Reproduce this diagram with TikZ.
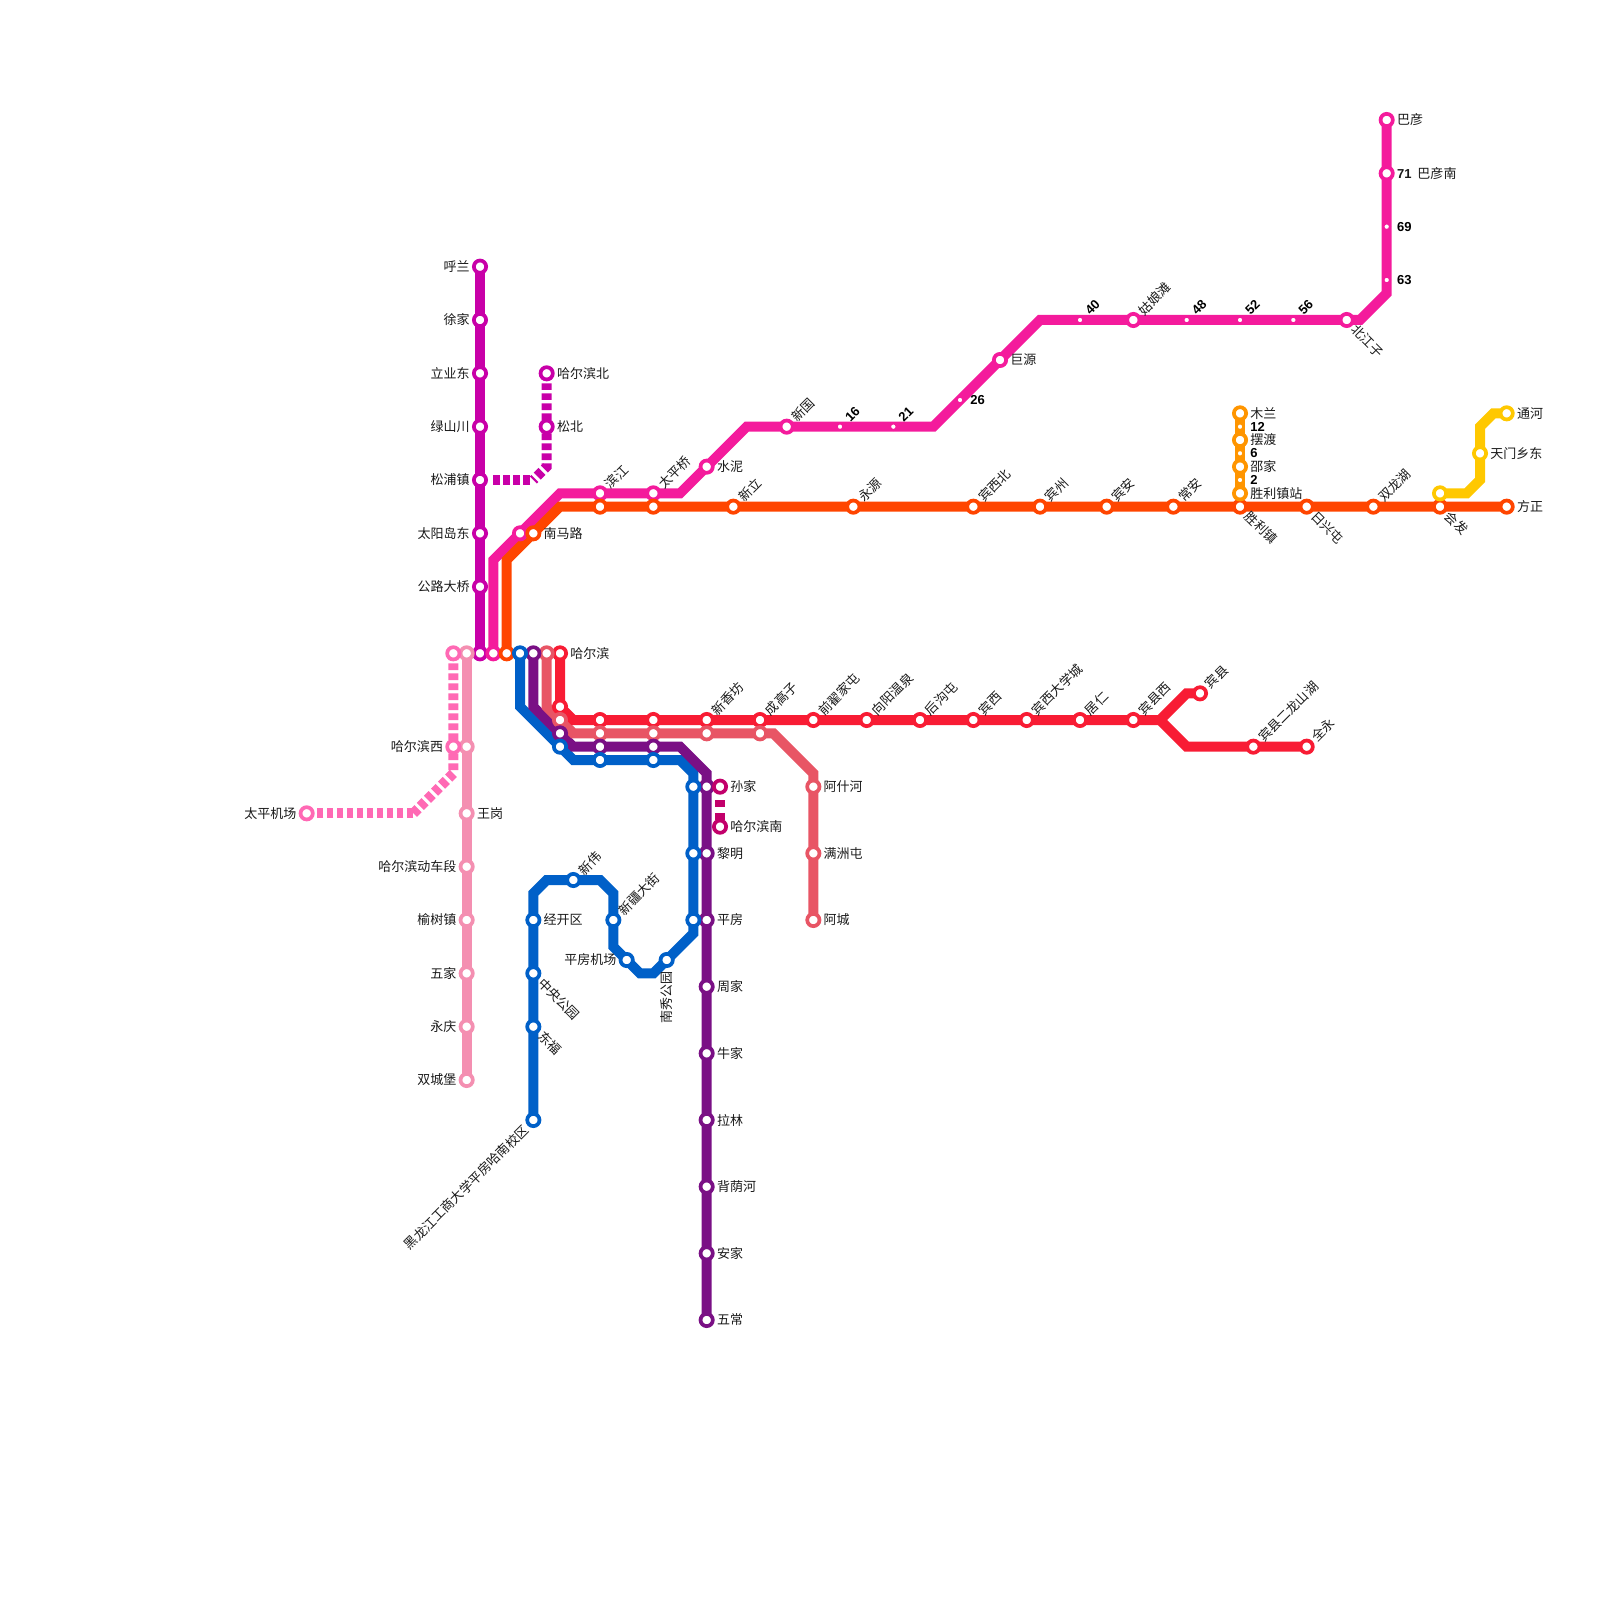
\documentclass[tikz,border=0pt]{standalone}
\usepackage{fontspec}
\usepackage{xcolor}
\setmainfont{Noto Sans CJK SC}
\newfontfamily\numfont{Liberation Sans}
\definecolor{hulan}{RGB}{200,0,168}
\definecolor{bayan}{RGB}{244,27,156}
\definecolor{fangzheng}{RGB}{255,69,0}
\definecolor{mulan}{RGB}{255,149,0}
\definecolor{tonghe}{RGB}{255,200,0}
\definecolor{binxian}{RGB}{248,28,52}
\definecolor{acheng}{RGB}{232,85,101}
\definecolor{wuchang}{RGB}{122,16,133}
\definecolor{pingfang}{RGB}{0,96,200}
\definecolor{shuangcheng}{RGB}{244,143,177}
\definecolor{jichang}{RGB}{255,105,180}
\definecolor{sunjia}{RGB}{194,0,107}
\pgfdeclarelayer{lines}
\pgfsetlayers{lines,main}
% stop: name, place, colour, label style, label
\newcommand{\stn}[5]{\node[stop,draw=#3] (#1) at (#2) {}; \node[#4] (#1-t) at (#1.center) {#5};}
\newcommand{\minor}[5]{\node[minorstop,draw=#3] (#1) at (#2) {}; \node[#4,numtext] (#1-t) at (#1.center) {#5};}
\begin{document}
\begin{tikzpicture}[x=0.2cm,y=-0.2cm,
  stop/.style={circle,fill=white,line width=.056cm,minimum size=.184cm,inner sep=0pt},
  minorstop/.style={circle,fill=white,line width=.03cm,minimum size=.1cm,inner sep=0pt},
  rail/.style={line width=.15cm},
  dashrail/.style={line width=.15cm,dash pattern=on .1cm off .05cm},
  txt/.style={inner sep=0pt,font=\fontsize{5.55pt}{6pt}\selectfont,text=black!90},
  numtext/.style={font=\fontsize{5.55pt}{6pt}\selectfont\numfont\bfseries,text=black},
  toright/.style={txt,anchor=west,xshift=.148cm},
  toleft/.style={txt,anchor=east,xshift=-.148cm},
  toup/.style={txt,anchor=west,xshift=.105cm,yshift=.105cm,rotate=45},
  todown/.style={txt,anchor=west,xshift=.105cm,yshift=-.105cm,rotate=-45},
  toback/.style={txt,anchor=east,xshift=-.105cm,yshift=-.105cm,rotate=45},
  tounder/.style={txt,anchor=east,yshift=-.16cm,rotate=90}]
  \useasboundingbox (0,0) rectangle (120,120);

  % hulan line
  \stn{hulan}{36,20}{hulan}{toleft}{呼兰}
  \stn{xujia}{36,24}{hulan}{toleft}{徐家}
  \stn{liye}{36,28}{hulan}{toleft}{立业东}
  \stn{lvshan}{36,32}{hulan}{toleft}{绿山川}
  \stn{songpu}{36,36}{hulan}{toleft}{松浦镇}
  \stn{taiyang}{36,40}{hulan}{toleft}{太阳岛东}
  \stn{gonglu}{36,44}{hulan}{toleft}{公路大桥}
  \stn{hrbA}{36,49}{hulan}{toleft}{}
  \stn{hrbbei}{41,28}{hulan}{toright}{哈尔滨北}
  \stn{songbei}{41,32}{hulan}{toright}{松北}

  % bayan line
  \stn{hrbB}{37,49}{bayan}{toright}{}
  \stn{bmaA}{39,40}{bayan}{toright}{}
  \stn{binjiang}{45,37}{bayan}{toup}{滨江}
  \stn{taiping}{49,37}{bayan}{toup}{太平桥}
  \stn{shuini}{53,35}{bayan}{toright}{水泥}
  \stn{xinguo}{59,32}{bayan}{toup}{新国}
  \minor{km16}{63,32}{bayan}{toup}{16}
  \minor{km21}{67,32}{bayan}{toup}{21}
  \minor{km26}{72,30}{bayan}{toright}{26}
  \stn{juyuan}{75,27}{bayan}{toright}{巨源}
  \minor{km40}{81,24}{bayan}{toup}{40}
  \stn{guniang}{85,24}{bayan}{toup}{姑娘滩}
  \minor{km48}{89,24}{bayan}{toup}{48}
  \minor{km52}{93,24}{bayan}{toup}{52}
  \minor{km56}{97,24}{bayan}{toup}{56}
  \stn{beijiang}{101,24}{bayan}{todown}{北江子}
  \minor{km63}{104,21}{bayan}{toright}{63}
  \minor{km69}{104,17}{bayan}{toright}{69}
  \stn{bayannan}{104,13}{bayan}{toright}{{\numfont\bfseries 71}\hspace{.09cm}巴彦南}
  \stn{bayan}{104,9}{bayan}{toright}{巴彦}

  % fangzheng line
  \stn{hrbC}{38,49}{fangzheng}{toright}{}
  \stn{nanma}{40,40}{fangzheng}{toright}{南马路}
  \stn{binjiangB}{45,38}{fangzheng}{toright}{}
  \stn{taipingB}{49,38}{fangzheng}{toright}{}
  \stn{xinli}{55,38}{fangzheng}{toup}{新立}
  \stn{yongyuan}{64,38}{fangzheng}{toup}{永源}
  \stn{binxibei}{73,38}{fangzheng}{toup}{宾西北}
  \stn{binzhou}{78,38}{fangzheng}{toup}{宾州}
  \stn{binan}{83,38}{fangzheng}{toup}{宾安}
  \stn{changan}{88,38}{fangzheng}{toup}{常安}
  \stn{shengli}{93,38}{fangzheng}{todown}{胜利镇}
  \stn{rixing}{98,38}{fangzheng}{todown}{日兴屯}
  \stn{shuanglong}{103,38}{fangzheng}{toup}{双龙湖}
  \stn{huifa}{108,38}{fangzheng}{todown}{会发}
  \stn{fangzheng}{113,38}{fangzheng}{toright}{方正}

  % mulan line
  \stn{mulan}{93,31}{mulan}{toright}{木兰}
  \minor{km12}{93,32}{mulan}{toright}{12}
  \stn{baidu}{93,33}{mulan}{toright}{摆渡}
  \minor{km6}{93,34}{mulan}{toright}{6}
  \stn{shaojia}{93,35}{mulan}{toright}{邵家}
  \minor{km2}{93,36}{mulan}{toright}{2}
  \stn{shenglizhan}{93,37}{mulan}{toright}{胜利镇站}

  % tonghe line
  \stn{huifaB}{108,37}{tonghe}{toright}{}
  \stn{tianmen}{111,34}{tonghe}{toright}{天门乡东}
  \stn{tonghe}{113,31}{tonghe}{toright}{通河}

  % binxian line
  \stn{hrbD}{42,49}{binxian}{toright}{哈尔滨}
  \stn{xiA}{42,53}{binxian}{toright}{}
  \stn{xiB}{45,54}{binxian}{toright}{}
  \stn{xiC}{49,54}{binxian}{toright}{}
  \stn{xinxiang}{53,54}{binxian}{toup}{新香坊}
  \stn{chenggao}{57,54}{binxian}{toup}{成高子}
  \stn{qianzhai}{61,54}{binxian}{toup}{前翟家屯}
  \stn{xiangyang}{65,54}{binxian}{toup}{向阳温泉}
  \stn{hougou}{69,54}{binxian}{toup}{后沟屯}
  \stn{binxi}{73,54}{binxian}{toup}{宾西}
  \stn{binxida}{77,54}{binxian}{toup}{宾西大学城}
  \stn{juren}{81,54}{binxian}{toup}{居仁}
  \stn{binxianxi}{85,54}{binxian}{toup}{宾县西}
  \stn{binxian}{90,52}{binxian}{toup}{宾县}
  \stn{erlong}{94,56}{binxian}{toup}{宾县二龙山湖}
  \stn{quanyong}{98,56}{binxian}{toup}{全永}

  % acheng line
  \stn{hrbE}{41,49}{acheng}{toright}{}
  \stn{acA}{42,54}{acheng}{toright}{}
  \stn{acB}{45,55}{acheng}{toright}{}
  \stn{acC}{49,55}{acheng}{toright}{}
  \stn{acD}{53,55}{acheng}{toright}{}
  \stn{acE}{57,55}{acheng}{toright}{}
  \stn{ashihe}{61,59}{acheng}{toright}{阿什河}
  \stn{manzhou}{61,64}{acheng}{toright}{满洲屯}
  \stn{acheng}{61,69}{acheng}{toright}{阿城}

  % wuchang line
  \stn{hrbF}{40,49}{wuchang}{toright}{}
  \stn{wcA}{42,55}{wuchang}{toright}{}
  \stn{wcB}{45,56}{wuchang}{toright}{}
  \stn{wcC}{49,56}{wuchang}{toright}{}
  \stn{wcD}{53,59}{wuchang}{toright}{}
  \stn{liming}{53,64}{wuchang}{toright}{黎明}
  \stn{pingfang}{53,69}{wuchang}{toright}{平房}
  \stn{zhoujia}{53,74}{wuchang}{toright}{周家}
  \stn{niujia}{53,79}{wuchang}{toright}{牛家}
  \stn{lalin}{53,84}{wuchang}{toright}{拉林}
  \stn{beiyin}{53,89}{wuchang}{toright}{背荫河}
  \stn{anjia}{53,94}{wuchang}{toright}{安家}
  \stn{wuchang}{53,99}{wuchang}{toright}{五常}

  % pingfang line
  \stn{hrbG}{39,49}{pingfang}{toright}{}
  \stn{pfA}{42,56}{pingfang}{toright}{}
  \stn{pfB}{45,57}{pingfang}{toright}{}
  \stn{pfC}{49,57}{pingfang}{toright}{}
  \stn{pfD}{52,59}{pingfang}{toright}{}
  \stn{pfE}{52,64}{pingfang}{toright}{}
  \stn{pfF}{52,69}{pingfang}{toright}{}
  \stn{nanxiu}{50,72}{pingfang}{tounder}{南秀公园}
  \stn{jichang}{47,72}{pingfang}{toleft}{平房机场}
  \stn{xinjiang}{46,69}{pingfang}{toup}{新疆大街}
  \stn{xinwei}{43,66}{pingfang}{toup}{新伟}
  \stn{jingkai}{40,69}{pingfang}{toright}{经开区}
  \stn{zhongyang}{40,73}{pingfang}{todown}{中央公园}
  \stn{dongfu}{40,77}{pingfang}{todown}{东福}
  \stn{gongshang}{40,84}{pingfang}{toback}{黑龙江工商大学平房哈南校区}

  % shuangcheng line
  \stn{hrbH}{35,49}{shuangcheng}{toright}{}
  \stn{hrbxiB}{35,56}{shuangcheng}{toright}{}
  \stn{wanggang}{35,61}{shuangcheng}{toright}{王岗}
  \stn{dongche}{35,65}{shuangcheng}{toleft}{哈尔滨动车段}
  \stn{yushu}{35,69}{shuangcheng}{toleft}{榆树镇}
  \stn{wujia}{35,73}{shuangcheng}{toleft}{五家}
  \stn{yongqing}{35,77}{shuangcheng}{toleft}{永庆}
  \stn{shuangcheng}{35,81}{shuangcheng}{toleft}{双城堡}

  % airport line
  \stn{hrbJ}{34,49}{jichang}{toright}{}
  \stn{hrbxi}{34,56}{jichang}{toleft}{哈尔滨西}
  \stn{taipingjc}{23,61}{jichang}{toleft}{太平机场}

  % sunjia line
  \stn{sunjia}{54,59}{sunjia}{toright}{孙家}
  \stn{hrbnan}{54,62}{sunjia}{toright}{哈尔滨南}

  % bends
  \coordinate (bA) at (41,35); \coordinate (bB) at (40,36); \coordinate (bC) at (37,36);
  \coordinate (cA) at (37,42); \coordinate (cB) at (42,37); \coordinate (cC) at (51,37);
  \coordinate (cD) at (56,32); \coordinate (cE) at (70,32); \coordinate (cF) at (78,24);
  \coordinate (cG) at (102,24); \coordinate (cH) at (104,22);
  \coordinate (dA) at (38,42); \coordinate (dB) at (42,38);
  \coordinate (eA) at (110,37); \coordinate (eB) at (111,36); \coordinate (eC) at (111,32); \coordinate (eD) at (112,31);
  \coordinate (fA) at (43,54); \coordinate (fB) at (87,54); \coordinate (fC) at (89,52); \coordinate (fD) at (89,56);
  \coordinate (gA) at (41,53); \coordinate (gB) at (43,55); \coordinate (gC) at (58,55); \coordinate (gD) at (61,58);
  \coordinate (hA) at (40,53); \coordinate (hB) at (43,56); \coordinate (hC) at (51,56); \coordinate (hD) at (53,58);
  \coordinate (jA) at (39,53); \coordinate (jB) at (43,57); \coordinate (jC) at (51,57); \coordinate (jD) at (52,58);
  \coordinate (jE) at (52,70); \coordinate (jF) at (49,73); \coordinate (jG) at (48,73); \coordinate (jH) at (46,71);
  \coordinate (jI) at (46,67); \coordinate (jK) at (45,66); \coordinate (jL) at (41,66); \coordinate (jM) at (40,67);
  \coordinate (kA) at (31,61); \coordinate (kB) at (34,58);

  \begin{pgfonlayer}{lines}
    \draw[rail,shuangcheng] (hrbH.center)--(shuangcheng.center);
    \draw[dashrail,jichang] (hrbJ.center)--(kB)--(kA);
    \draw[dashrail,jichang] (kA)--(taipingjc.center);
    \draw[rail,hulan] (hulan.center)--(hrbA.center);
    \draw[dashrail,hulan] (hrbbei.center)--(bA)--(bB);
    \draw[dashrail,hulan,dash phase=.1cm] (bB)--(bC);
    \draw[rail,pingfang] (hrbG.center)--(jA)--(jB)--(jC)--(jD)--(jE)--(jF)--(jG)--(jH)--(jI)--(jK)--(jL)--(jM)--(gongshang.center);
    \draw[rail,wuchang] (hrbF.center)--(hA)--(hB)--(hC)--(hD)--(wuchang.center);
    \draw[rail,acheng] (hrbE.center)--(gA)--(gB)--(gC)--(gD)--(acheng.center);
    \draw[rail,binxian] (hrbD.center)--(xiA.center)--(fA)--(fB)--(fC)--(binxian.center);
    \draw[rail,binxian] (fB)--(fD)--(quanyong.center);
    \draw[rail,bayan] (hrbB.center)--(cA)--(cB)--(cC)--(cD)--(cE)--(cF)--(cG)--(cH)--(bayan.center);
    \draw[rail,fangzheng] (hrbC.center)--(dA)--(dB)--(fangzheng.center);
    \draw[rail,mulan] (mulan.center)--(shenglizhan.center);
    \draw[rail,tonghe] (huifaB.center)--(eA)--(eB)--(eC)--(eD)--(tonghe.center);
    \draw[rail,sunjia,dash pattern=on .1cm off .1cm] (sunjia.center)--(hrbnan.center);
  \end{pgfonlayer}
\end{tikzpicture}
\end{document}
